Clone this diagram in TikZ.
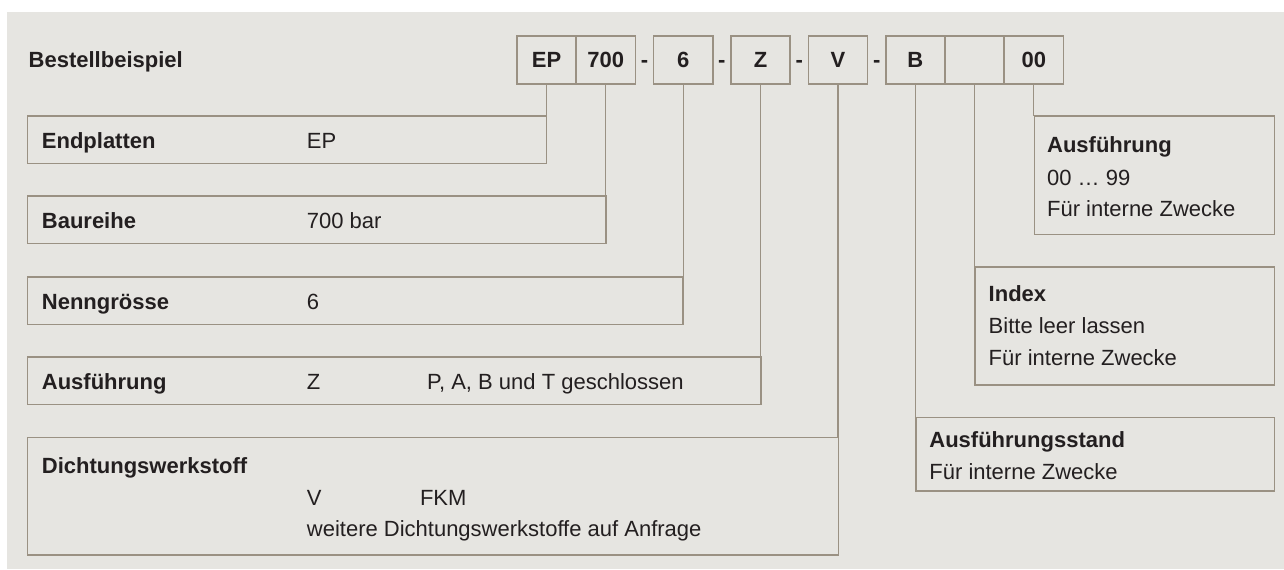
\documentclass[tikz,border=0pt]{standalone}
\usepackage{fontspec}
\setmainfont{Liberation Sans}
\usetikzlibrary{positioning}
\definecolor{bgpanel}{HTML}{E6E5E1}
\definecolor{rulec}{HTML}{9A9183}
\definecolor{inkc}{HTML}{231F20}
\newcommand{\diafont}{\fontsize{11}{13}\selectfont}

\begin{document}
\begin{tikzpicture}[x=0.5pt,y=-0.5pt,
    every node/.style={text=inkc,font=\diafont},
    codebox/.style={draw=rulec,line width=0.8pt,minimum width=29.6pt,minimum height=24pt,
                    inner sep=0pt,outer sep=0pt,text height=7.9pt,text depth=0pt,
                    font=\diafont\bfseries},
    sepdash/.style={minimum width=9.1pt,minimum height=24pt,inner sep=0pt,outer sep=0pt,
                    text height=7.9pt,text depth=0pt,font=\diafont\bfseries},
    infobox/.style={draw=rulec,line width=0.8pt,inner sep=0pt,outer sep=0pt,anchor=north west},
    txt/.style={anchor=base west,inner sep=0pt},
    lead/.style={draw=rulec,line width=0.6pt}]
    \useasboundingbox (0,0) rectangle (1284,569);
    \fill[bgpanel] (7,12) rectangle (1284,569);

    %order code
    \node[txt] (title) at (28.3,67.3) {\bfseries Bestellbeispiel};
    \node[codebox] (codeEP) at (546.6,60) {EP};
    \node[codebox,right=0pt of codeEP] (code700) {700};
    \node[sepdash,right=0pt of code700] (dashA) {-};
    \node[codebox,right=0pt of dashA] (code6) {6};
    \node[sepdash,right=0pt of code6] (dashB) {-};
    \node[codebox,right=0pt of dashB] (codeZ) {Z};
    \node[sepdash,right=0pt of codeZ] (dashC) {-};
    \node[codebox,right=0pt of dashC] (codeV) {V};
    \node[sepdash,right=0pt of codeV] (dashD) {-};
    \node[codebox,right=0pt of dashD] (codeB) {B};
    \node[codebox,right=0pt of codeB] (codeIdx) {};
    \node[codebox,right=0pt of codeIdx] (code00) {00};

    %left boxes
    \node[infobox,minimum width=259.65pt,minimum height=23.8pt] (endpl) at (27.3,115.7) {};
    \node[txt] (endplName) at (41.5,148.3) {\bfseries Endplatten};
    \node[txt] (endplVal) at (306.5,148.3) {EP};

    \node[infobox,minimum width=289.25pt,minimum height=23.8pt] (baur) at (27.3,196) {};
    \node[txt] (baurName) at (41.5,228.6) {\bfseries Baureihe};
    \node[txt] (baurVal) at (306.5,228.6) {700 bar};

    \node[infobox,minimum width=327.95pt,minimum height=23.8pt] (nenn) at (27.3,276.7) {};
    \node[txt] (nennName) at (41.5,309.3) {\bfseries Nenngrösse};
    \node[txt] (nennVal) at (306.5,309.3) {6};

    \node[infobox,minimum width=366.75pt,minimum height=23.8pt] (ausf) at (27.3,356.7) {};
    \node[txt] (ausfName) at (41.5,389.3) {\bfseries Ausführung};
    \node[txt] (ausfVal) at (306.5,389.3) {Z};
    \node[txt] (ausfNote) at (426.8,389.3) {P, A, B und T geschlossen};

    \node[infobox,minimum width=405.55pt,minimum height=58.85pt] (dicht) at (27.3,437.3) {};
    \node[txt] (dichtName) at (41.5,473.3) {\bfseries Dichtungswerkstoff};
    \node[txt] (dichtVal) at (306.5,505) {V};
    \node[txt] (dichtFkm) at (419.6,505) {FKM};
    \node[txt] (dichtNote) at (306.5,536.7) {weitere Dichtungswerkstoffe auf Anfrage};

    %right boxes
    \node[infobox,minimum width=119.95pt,minimum height=59.15pt] (var) at (1034.4,116) {};
    \node[txt] (varName) at (1046.7,152.7) {\bfseries Ausführung};
    \node[txt] (varVal) at (1046.7,185) {00 … 99};
    \node[txt] (varNote) at (1046.7,216.7) {Für interne Zwecke};

    \node[infobox,minimum width=149.55pt,minimum height=59.15pt] (idx) at (975.2,266.7) {};
    \node[txt] (idxName) at (988.3,301.7) {\bfseries Index};
    \node[txt] (idxVal) at (988.3,333.3) {Bitte leer lassen};
    \node[txt] (idxNote) at (988.3,365.7) {Für interne Zwecke};

    \node[infobox,minimum width=179.15pt,minimum height=36.85pt] (stand) at (916,417.3) {};
    \node[txt] (standName) at (929,447.7) {\bfseries Ausführungsstand};
    \node[txt] (standNote) at (929,479.3) {Für interne Zwecke};

    %leads
    \draw[lead] (codeEP.south) -- (codeEP.south |- endpl.north);
    \draw[lead] (code700.south) -- (code700.south |- baur.north);
    \draw[lead] (code6.south) -- (code6.south |- nenn.north);
    \draw[lead] (codeZ.south) -- (codeZ.south |- ausf.north);
    \draw[lead] (codeV.south) -- (codeV.south |- dicht.north);
    \draw[lead] (codeB.south) -- (codeB.south |- stand.north);
    \draw[lead] (codeIdx.south) -- (codeIdx.south |- idx.north);
    \draw[lead] (code00.south) -- (code00.south |- var.north);
\end{tikzpicture}
\end{document}
